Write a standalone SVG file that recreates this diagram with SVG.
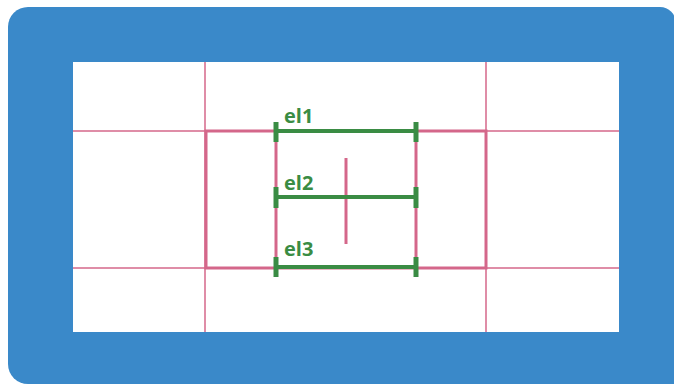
<svg xmlns="http://www.w3.org/2000/svg" width="674" height="384" viewBox="0 0 674 384">
<style>
.grid{stroke:#d4678a;stroke-width:1.5;fill:none}
.box{stroke:#d4678a;stroke-width:3;fill:none}
.el{stroke:#3a8c44;stroke-width:4;fill:none}
.tick{stroke:#3a8c44;stroke-width:5;fill:none}
.lbl{font-family:"Open Sans","Liberation Sans",sans-serif;font-weight:bold;font-size:20px;fill:#3a8c44}
</style>
<g id="frame">
<path d="M28 7 H660 A16 16 0 0 1 676 23 V384 H28 A20 20 0 0 1 8 364 V27 A20 20 0 0 1 28 7 Z" fill="#3a89c9"/>
<rect x="73" y="62" width="546" height="270" fill="#ffffff"/>
</g>
<g id="grid">
<line class="grid" x1="205" y1="62" x2="205" y2="332"/>
<line class="grid" x1="486" y1="62" x2="486" y2="332"/>
<line class="grid" x1="73" y1="131" x2="619" y2="131"/>
<line class="grid" x1="73" y1="268" x2="619" y2="268"/>
<rect class="box" x="206" y="131" width="280" height="137"/>
<line class="box" x1="276" y1="131" x2="276" y2="268"/>
<line class="box" x1="416" y1="131" x2="416" y2="268"/>
<line class="box" x1="346" y1="158" x2="346" y2="244"/>
</g>
<g id="connectors">
<g id="el1">
<line class="el" x1="276" y1="131" x2="416" y2="131"/>
<line class="tick" x1="276" y1="122" x2="276" y2="142"/>
<line class="tick" x1="416" y1="122" x2="416" y2="142"/>
<text class="lbl" x="284" y="123">el1</text>
</g>
<g id="el2">
<line class="el" x1="276" y1="197" x2="416" y2="197"/>
<line class="tick" x1="276" y1="187" x2="276" y2="208"/>
<line class="tick" x1="416" y1="187" x2="416" y2="208"/>
<text class="lbl" x="284" y="190">el2</text>
</g>
<g id="el3">
<line class="el" x1="276" y1="267" x2="416" y2="267"/>
<line class="tick" x1="276" y1="257" x2="276" y2="277"/>
<line class="tick" x1="416" y1="257" x2="416" y2="277"/>
<text class="lbl" x="284" y="256">el3</text>
</g>
</g>
</svg>
